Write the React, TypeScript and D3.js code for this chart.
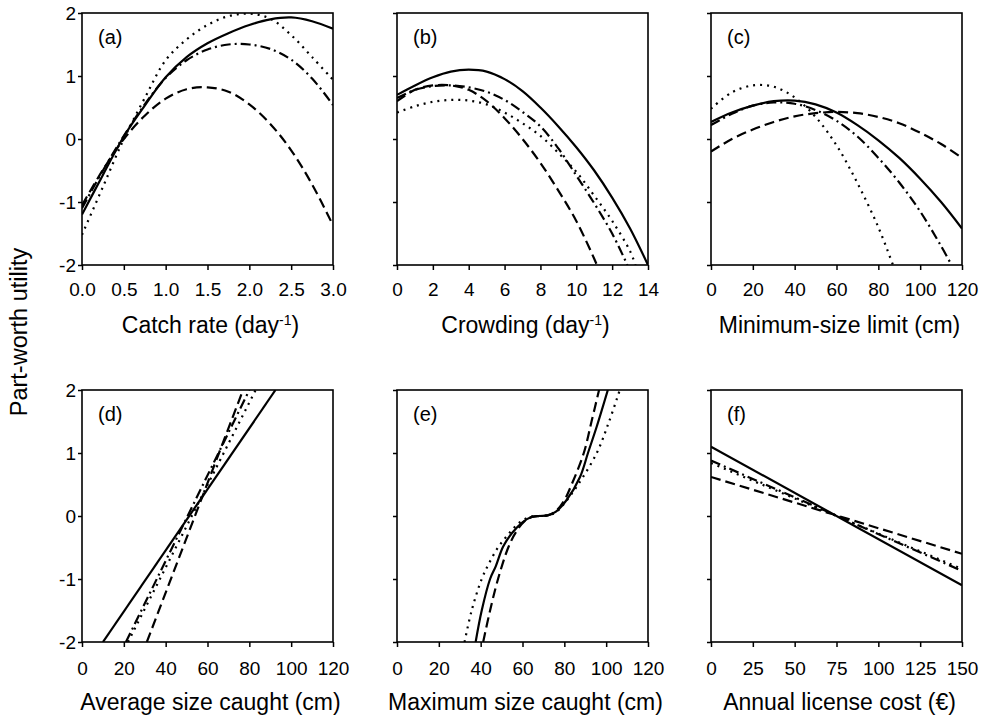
import React, { useRef, useEffect } from 'react';
import * as d3 from 'd3';

type Pt = [number, number];

// (a) catch rate
const catchSolid: Pt[] = [[0, -1.2], [0.25, -0.57], [0.5, 0.04], [0.75, 0.53], [1, 0.98], [1.25, 1.3], [1.5, 1.52], [1.75, 1.68], [2, 1.81], [2.25, 1.9], [2.5, 1.93], [2.75, 1.87], [3, 1.75]];
const catchDotted: Pt[] = [[0, -1.52], [0.25, -0.76], [0.5, 0.0], [0.75, 0.65], [1, 1.25], [1.25, 1.58], [1.5, 1.81], [1.75, 1.95], [2, 1.99], [2.25, 1.91], [2.5, 1.65], [2.75, 1.3], [3, 0.94]];
const catchDashDot: Pt[] = [[0, -1.1], [0.25, -0.5], [0.5, 0.05], [0.75, 0.55], [1, 0.97], [1.25, 1.25], [1.5, 1.42], [1.75, 1.5], [2, 1.5], [2.25, 1.43], [2.5, 1.26], [2.75, 0.96], [3, 0.54]];
const catchDashed: Pt[] = [[0, -1.05], [0.25, -0.49], [0.5, 0.0], [0.75, 0.37], [1, 0.64], [1.25, 0.79], [1.5, 0.82], [1.75, 0.75], [2, 0.55], [2.25, 0.24], [2.5, -0.18], [2.75, -0.72], [3, -1.37]];

// (b) crowding
const crowdSolid: Pt[] = [[0, 0.7], [1, 0.85], [2, 0.98], [3, 1.07], [4, 1.1], [5, 1.07], [6, 0.95], [7, 0.76], [8, 0.5], [9, 0.2], [10, -0.13], [11, -0.5], [12, -0.93], [13, -1.42], [14, -2.0]];
const crowdDotted: Pt[] = [[0, 0.42], [1, 0.52], [2, 0.59], [3, 0.62], [4, 0.61], [5, 0.55], [6, 0.42], [7, 0.25], [8, 0.05], [9, -0.22], [10, -0.52], [11, -0.9], [12, -1.3], [13, -1.78], [13.3, -2.0]];
const crowdDashDot: Pt[] = [[0, 0.65], [1, 0.78], [2, 0.84], [3, 0.85], [4, 0.82], [5, 0.75], [6, 0.62], [7, 0.43], [8, 0.2], [9, -0.15], [10, -0.58], [11, -1.02], [12, -1.5], [12.85, -2.0]];
const crowdDashed: Pt[] = [[0, 0.6], [1, 0.78], [2, 0.85], [3, 0.85], [4, 0.78], [5, 0.6], [6, 0.33], [7, 0.0], [8, -0.38], [9, -0.82], [10, -1.3], [11, -1.9], [11.15, -2.0]];

// (c) minimum-size limit
const minSolid: Pt[] = [[0, 0.27], [10, 0.42], [20, 0.53], [30, 0.6], [40, 0.61], [50, 0.55], [60, 0.42], [70, 0.22], [80, -0.02], [90, -0.3], [100, -0.63], [110, -1.0], [120, -1.42]];
const minDotted: Pt[] = [[0, 0.48], [10, 0.74], [20, 0.85], [30, 0.83], [40, 0.66], [50, 0.35], [60, -0.1], [70, -0.7], [80, -1.4], [87, -2.0]];
const minDashDot: Pt[] = [[0, 0.22], [10, 0.4], [20, 0.53], [30, 0.58], [40, 0.56], [50, 0.46], [60, 0.29], [70, 0.04], [80, -0.3], [90, -0.69], [100, -1.15], [110, -1.7], [115, -2.0]];
const minDashed: Pt[] = [[0, -0.2], [10, 0.0], [20, 0.15], [30, 0.27], [40, 0.36], [50, 0.41], [60, 0.43], [70, 0.41], [80, 0.35], [90, 0.25], [100, 0.1], [110, -0.08], [120, -0.3]];

// (d) average size caught
const avgSolid: Pt[] = [[10, -2], [92.5, 2]];
const avgDotted: Pt[] = [[22, -2], [83, 2]];
const avgDashDot: Pt[] = [[21, -2], [80, 2]];
const avgDashed: Pt[] = [[31, -2], [77, 2]];

// (e) maximum size caught
const maxSolid: Pt[] = [[37.6, -2], [40.5, -1.5], [44.5, -1.0], [47.2, -0.8], [50.7, -0.49], [55, -0.27], [60, -0.1], [64, -0.02], [68, 0], [72, 0.01], [76, 0.07], [81, 0.25], [87.5, 0.62], [91.3, 1.0], [95.5, 1.42], [100.8, 2.0]];
const maxDotted: Pt[] = [[32.3, -2], [35.7, -1.5], [40.5, -1.0], [44, -0.75], [48.3, -0.5], [53, -0.3], [58, -0.12], [63, -0.02], [68, 0], [72, 0.01], [76, 0.06], [80, 0.2], [86.6, 0.5], [95.5, 1.0], [101.4, 1.5], [106.5, 2.0]];
const maxDashed: Pt[] = [[41.2, -2], [44.5, -1.5], [48.3, -1.0], [53.2, -0.5], [57, -0.25], [61, -0.08], [65, -0.01], [68, 0], [72, 0.01], [76, 0.08], [80, 0.25], [83.5, 0.5], [89.3, 1.0], [93, 1.5], [96.6, 2.0]];

// (f) annual license cost
const costSolid: Pt[] = [[0, 1.1], [150, -1.1]];
const costDotted: Pt[] = [[0, 0.84], [150, -0.84]];
const costDashDot: Pt[] = [[0, 0.88], [150, -0.87]];
const costDashed: Pt[] = [[0, 0.62], [150, -0.6]];

const yTicks = [-2, -1, 0, 1, 2];
const catchTicks = [0, 0.5, 1, 1.5, 2, 2.5, 3];
const crowdTicks = [0, 2, 4, 6, 8, 10, 12, 14];
const sizeTicks = [0, 20, 40, 60, 80, 100, 120];
const costTicks = [0, 25, 50, 75, 100, 125, 150];

const dashes: Record<string, string | null> = {
    solid: null,
    dotted: '2,5',
    dashDot: '10,4,2,4',
    dashed: '10,5'
};

const oneDecimal = (d: number) => d.toFixed(1);
const plain = (d: number) => String(d);

const panels = [
    { label: '(a)', col: 0, row: 0, domain: [0, 3], ticks: catchTicks, fmt: oneDecimal, title: 'Catch rate (day', sup: '-1',
      series: [['dotted', catchDotted], ['dashed', catchDashed], ['dashDot', catchDashDot], ['solid', catchSolid]] },
    { label: '(b)', col: 1, row: 0, domain: [0, 14], ticks: crowdTicks, fmt: plain, title: 'Crowding (day', sup: '-1',
      series: [['dotted', crowdDotted], ['dashed', crowdDashed], ['dashDot', crowdDashDot], ['solid', crowdSolid]] },
    { label: '(c)', col: 2, row: 0, domain: [0, 120], ticks: sizeTicks, fmt: plain, title: 'Minimum-size limit (cm)', sup: null,
      series: [['dotted', minDotted], ['dashed', minDashed], ['dashDot', minDashDot], ['solid', minSolid]] },
    { label: '(d)', col: 0, row: 1, domain: [0, 120], ticks: sizeTicks, fmt: plain, title: 'Average size caught (cm)', sup: null,
      series: [['dotted', avgDotted], ['dashed', avgDashed], ['dashDot', avgDashDot], ['solid', avgSolid]] },
    { label: '(e)', col: 1, row: 1, domain: [0, 120], ticks: sizeTicks, fmt: plain, title: 'Maximum size caught (cm)', sup: null,
      series: [['dotted', maxDotted], ['dashed', maxDashed], ['solid', maxSolid]] },
    { label: '(f)', col: 2, row: 1, domain: [0, 150], ticks: costTicks, fmt: plain, title: 'Annual license cost (€)', sup: null,
      series: [['dotted', costDotted], ['dashed', costDashed], ['dashDot', costDashDot], ['solid', costSolid]] }
];

const FONT = 'Arial, "Liberation Sans", sans-serif';

const App = () => {
    const svgRef = useRef<SVGSVGElement>(null);

    const totalWidth = 981;
    const totalHeight = 724;
    const lefts = [82, 397, 711];
    const tops = [13, 390];
    const pw = 251;
    const ph = 252;
    const tickBase = [31, 33];
    const titleBase = [68, 68];

    useEffect(() => {
        const svg = d3.select(svgRef.current);
        svg.selectAll('*').remove();

        panels.forEach((p, i) => {
            const x0 = lefts[p.col];
            const y0 = tops[p.row];
            const g = svg.append('g').attr('transform', `translate(${x0},${y0})`);

            const xScale = d3.scaleLinear().domain(p.domain).range([0, pw]);
            const yScale = d3.scaleLinear().domain([-2, 2]).range([ph, 0]);

            g.append('clipPath').attr('id', `clip-${i}`)
                .append('rect').attr('width', pw).attr('height', ph);

            const line = d3.line<Pt>()
                .x(d => xScale(d[0]))
                .y(d => yScale(d[1]))
                .curve(d3.curveCatmullRom.alpha(0.5));

            p.series.forEach(([style, pts]) => {
                g.append('path')
                    .attr('d', line(pts as Pt[]))
                    .attr('clip-path', `url(#clip-${i})`)
                    .attr('fill', 'none')
                    .attr('stroke', '#000')
                    .attr('stroke-width', 2.2)
                    .attr('stroke-dasharray', dashes[style as string]);
            });

            // y axis
            const yAxis = d3.axisLeft(yScale).tickValues(yTicks).tickSize(4).tickPadding(2)
                .tickFormat(p.col === 0 ? (plain as any) : () => '');
            const ya = g.append('g').call(yAxis);
            ya.select('.domain').remove();
            ya.selectAll('line').attr('stroke-width', 1.5);
            ya.selectAll('text').style('font-family', FONT).style('font-size', '19px').attr('fill', '#000');

            // x axis
            const xAxis = d3.axisBottom(xScale).tickValues(p.ticks).tickSize(5).tickFormat(p.fmt as any);
            const xa = g.append('g').attr('transform', `translate(0,${ph})`).call(xAxis);
            xa.select('.domain').remove();
            xa.selectAll('line').attr('stroke-width', 1.5);
            xa.selectAll('text')
                .attr('y', tickBase[p.row])
                .attr('dy', null)
                .style('font-family', FONT).style('font-size', '19px').attr('fill', '#000');

            // frame
            g.append('rect')
                .attr('width', pw).attr('height', ph)
                .attr('fill', 'none').attr('stroke', '#000').attr('stroke-width', 1.6);

            g.append('text')
                .attr('x', 16).attr('y', 31)
                .style('font-family', FONT).style('font-size', '20px')
                .text(p.label);

            const t = g.append('text')
                .attr('x', pw / 2 + 3).attr('y', ph + titleBase[p.row])
                .attr('text-anchor', 'middle')
                .style('font-family', FONT).style('font-size', '23px');
            t.append('tspan').text(p.title);
            if (p.sup) {
                t.append('tspan').attr('dy', -8).style('font-size', '14px').text(p.sup);
                t.append('tspan').attr('dy', 8).text(')');
            }
        });

        svg.append('text')
            .attr('transform', 'translate(27,332) rotate(-90)')
            .attr('text-anchor', 'middle')
            .style('font-family', FONT).style('font-size', '23.5px')
            .text('Part-worth utility');
    }, []);

    return (
        <svg
            ref={svgRef}
            width={totalWidth}
            height={totalHeight}
            style={{ position: 'absolute', left: 0, top: 0, background: '#fff' }}
        ></svg>
    );
};

export default App;
